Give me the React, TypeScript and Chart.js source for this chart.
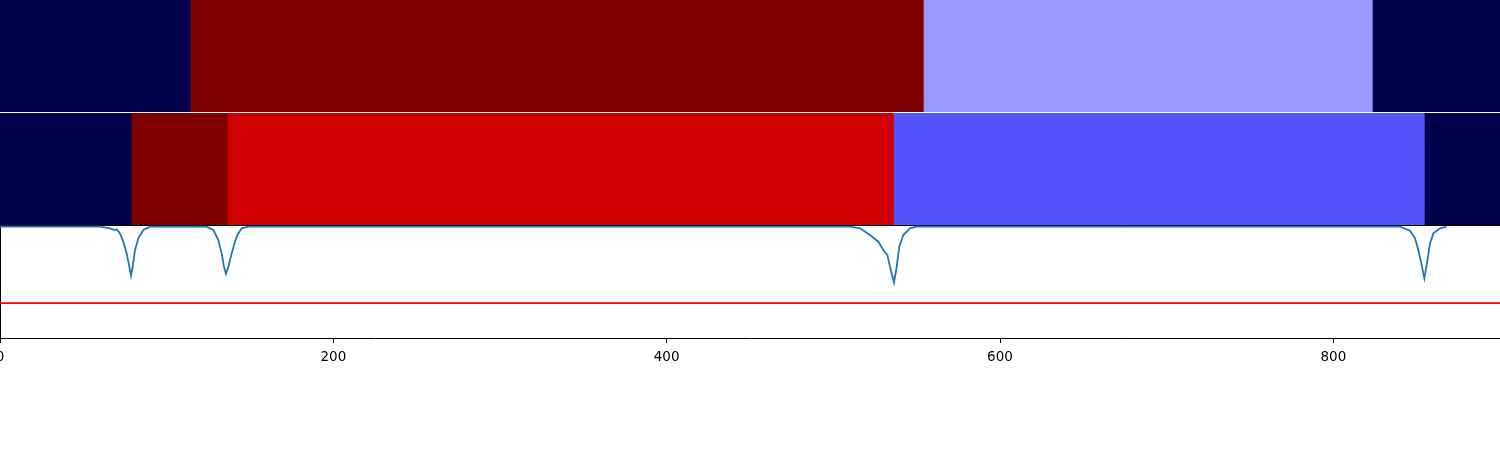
import React, { useEffect, useRef } from "react";
import { Chart, registerables } from "chart.js";
Chart.register(...registerables);

// ---- data ----
const xMin = 0;
const xMax = 900;
const xTicks = [0, 200, 400, 600, 800];

// top band: segment edges
const row1Edges = [0, 114.6, 554.4, 823.8, 900];
// middle band
const row2Edges = [0, 79.2, 136.8, 536.4, 855, 900];

// signal trace (lower panel)
const traceX = [
  0, 40, 60, 66, 69, 70, 72, 74, 76, 77.6, 78.6, 79.6, 81, 83, 86, 90,
  110, 124, 128, 131, 133, 134.4, 135.6, 137, 139, 141, 142.4, 145, 149,
  300, 510, 516, 522, 527, 530, 532.4, 534, 536.4, 538, 539.6, 542, 546, 550,
  700, 830, 840, 846, 849, 851, 853, 854.6, 856, 858, 860, 864, 868,
];
const traceY = [
  0, 0, 0, -0.015, -0.03, -0.024, -0.06, -0.135, -0.24, -0.36, -0.44, -0.36, -0.21, -0.105, -0.03, 0,
  0, 0, -0.03, -0.12, -0.24, -0.36, -0.425, -0.36, -0.24, -0.135, -0.075, -0.015, 0,
  0, 0, -0.015, -0.075, -0.135, -0.21, -0.255, -0.36, -0.5, -0.36, -0.18, -0.075, -0.015, 0,
  0, 0, 0, -0.036, -0.105, -0.21, -0.345, -0.465, -0.345, -0.15, -0.06, -0.015, 0,
];
const thresholdY = -0.686;
const yMin = -1;
const yMax = 0.015;

// ---- styles ----
const row1Colors = ["#00004c", "#7f0000", "#9999ff", "#00004c"];
const row2Colors = ["#00004c", "#7f0000", "#d10000", "#5555ff", "#00004c"];
const FONT = "'DejaVu Sans', sans-serif";
const AXIS_H = 30;
const PLOT_H = 113;

const borderAxis = (position: string, extra: any = {}) => ({
  position,
  display: true,
  z: 1,
  ticks: { display: false },
  grid: { display: false, drawTicks: false },
  border: { display: true, color: "#000", width: 1 },
  ...extra,
});

function bandConfig(edges: number[], colors: string[]) {
  const data = [];
  for (let i = 0; i < edges.length - 1; i++) {
    data.push({ x: [edges[i], edges[i + 1]], y: "r" });
  }
  return {
    type: "bar",
    data: {
      labels: ["r"],
      datasets: [
        {
          data,
          backgroundColor: colors,
          borderWidth: 0,
          barPercentage: 1,
          categoryPercentage: 1,
          grouped: false,
        },
      ],
    },
    options: {
      indexAxis: "y",
      animation: false,
      responsive: false,
      maintainAspectRatio: false,
      layout: { padding: 0 },
      plugins: { legend: { display: false }, tooltip: { enabled: false } },
      scales: {
        x: borderAxis("bottom", { type: "linear", min: xMin, max: xMax }),
        xTop: borderAxis("top", { type: "linear", min: xMin, max: xMax }),
        y: borderAxis("left", { type: "category", labels: ["r"] }),
        yRight: borderAxis("right", { type: "linear", min: 0, max: 1 }),
      },
    },
  };
}

function Band({ edges, colors, top, height }: any) {
  const ref = useRef<HTMLCanvasElement>(null);
  useEffect(() => {
    const c = new Chart(ref.current as any, bandConfig(edges, colors) as any);
    return () => c.destroy();
  }, []);
  return (
    <canvas
      ref={ref}
      width={1500}
      height={height}
      style={{ position: "absolute", left: 0, top, width: 1500, height }}
    />
  );
}

function Trace() {
  const ref = useRef<HTMLCanvasElement>(null);
  useEffect(() => {
    const pts = traceX.map((x, i) => ({ x, y: traceY[i] }));
    const c = new Chart(ref.current as any, {
      type: "line",
      data: {
        datasets: [
          {
            data: pts,
            borderColor: "#1f77b4",
            borderWidth: 1.8,
            pointRadius: 0,
            tension: 0,
          },
          {
            data: [
              { x: xMin, y: thresholdY },
              { x: xMax, y: thresholdY },
            ],
            borderColor: "#ff0000",
            borderWidth: 1.8,
            pointRadius: 0,
          },
        ],
      },
      options: {
        animation: false,
        responsive: false,
        maintainAspectRatio: false,
        layout: { padding: { left: 20, right: 20, top: 0, bottom: 0 } },
        plugins: { legend: { display: false }, tooltip: { enabled: false } },
        scales: {
          x: {
            type: "linear",
            min: xMin,
            max: xMax,
            position: "bottom",
            afterBuildTicks: (s: any) => {
              s.ticks = xTicks.map((v) => ({ value: v }));
            },
            afterFit: (s: any) => {
              s.height = AXIS_H;
            },
            ticks: {
              color: "#000",
              font: { family: FONT, size: 13.5 },
              padding: 6,
              maxRotation: 0,
              autoSkip: false,
            },
            grid: {
              display: true,
              drawOnChartArea: false,
              drawTicks: true,
              tickLength: 5,
              color: "#000",
            },
            border: { display: true, color: "#000", width: 1 },
          },
          xTop: borderAxis("top", { type: "linear", min: xMin, max: xMax }),
          y: borderAxis("left", { type: "linear", min: yMin, max: yMax }),
          yRight: borderAxis("right", { type: "linear", min: 0, max: 1 }),
        },
      },
    } as any);
    return () => c.destroy();
  }, []);
  const h = PLOT_H + AXIS_H;
  return (
    <canvas
      ref={ref}
      width={1540}
      height={h}
      style={{ position: "absolute", left: -20, top: 225, width: 1540, height: h }}
    />
  );
}

export default function App() {
  return (
    <div
      style={{
        position: "fixed",
        left: 0,
        top: 0,
        width: 1500,
        height: 450,
        overflow: "hidden",
        background: "#fff",
      }}
    >
      <Band edges={row1Edges} colors={row1Colors} top={0} height={112} />
      <Band edges={row2Edges} colors={row2Colors} top={113} height={113} />
      <Trace />
    </div>
  );
}
